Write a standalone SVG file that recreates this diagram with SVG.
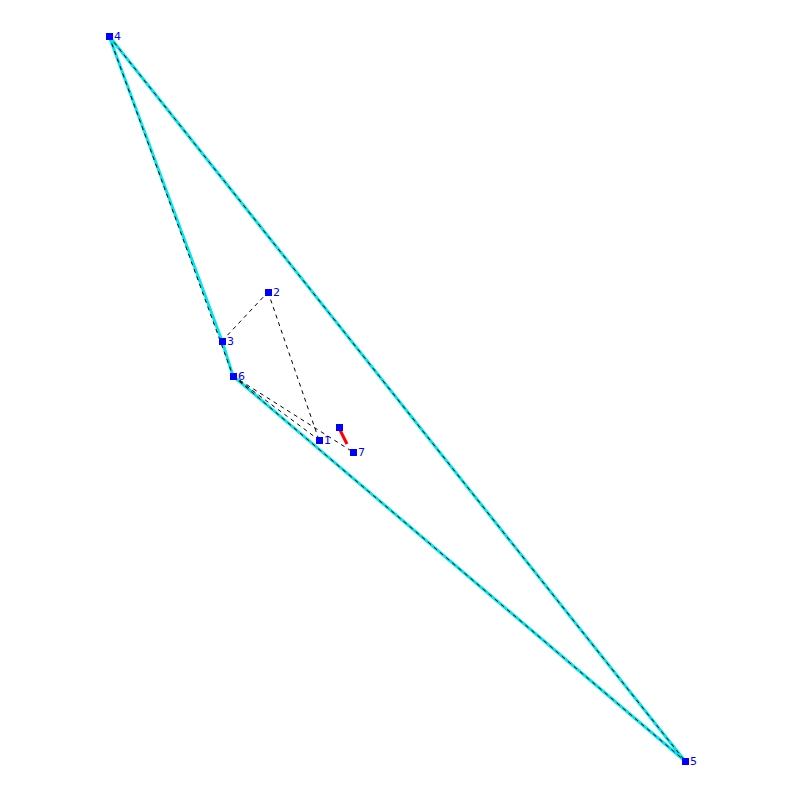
<svg xmlns="http://www.w3.org/2000/svg" width="800" height="800" viewBox="0 0 800 800">
<style>
.c{stroke:#00e5ee;stroke-width:3;fill:none}
.d{stroke:#000;stroke-width:1;stroke-dasharray:4,4;fill:none}
.r{stroke:#ff0000;stroke-width:3;fill:none}
.n rect{fill:#0000ff}
.n text{fill:#0000ff;font-family:"DejaVu Sans",sans-serif;font-size:11px}
</style>
<rect width="800" height="800" fill="#fff"/>
<g id="connectors">
<line class="c" x1="109" y1="36" x2="222" y2="341"/>
<line class="c" x1="222" y1="341" x2="233" y2="376"/>
<line class="c" x1="233" y1="376" x2="685" y2="761"/>
<line class="c" x1="109" y1="36" x2="685" y2="761"/>
<line class="d" x1="109" y1="36" x2="233" y2="376"/>
<line class="d" x1="109" y1="36" x2="685" y2="761"/>
<line class="d" x1="233" y1="376" x2="685" y2="761"/>
<line class="d" x1="222" y1="341" x2="268" y2="292"/>
<line class="d" x1="268" y1="292" x2="319" y2="440"/>
<line class="d" x1="233" y1="376" x2="319" y2="440"/>
<line class="d" x1="233" y1="376" x2="353" y2="452"/>
<line class="r" x1="340" y1="430" x2="347" y2="444"/>
</g>
<g id="n4" class="n"><rect x="106" y="33" width="7" height="7"/><text x="114" y="40">4</text></g>
<g id="n2" class="n"><rect x="265" y="289" width="7" height="7"/><text x="273" y="296">2</text></g>
<g id="n3" class="n"><rect x="219" y="338" width="7" height="7"/><text x="227" y="345">3</text></g>
<g id="n6" class="n"><rect x="230" y="373" width="7" height="7"/><text x="238" y="380">6</text></g>
<g id="n1" class="n"><rect x="316" y="437" width="7" height="7"/><text x="324" y="444">1</text></g>
<g id="n7" class="n"><rect x="350" y="449" width="7" height="7"/><text x="358" y="456">7</text></g>
<g id="n8" class="n"><rect x="336" y="424" width="7" height="7"/></g>
<g id="n5" class="n"><rect x="682" y="758" width="7" height="7"/><text x="690" y="765">5</text></g>
</svg>
